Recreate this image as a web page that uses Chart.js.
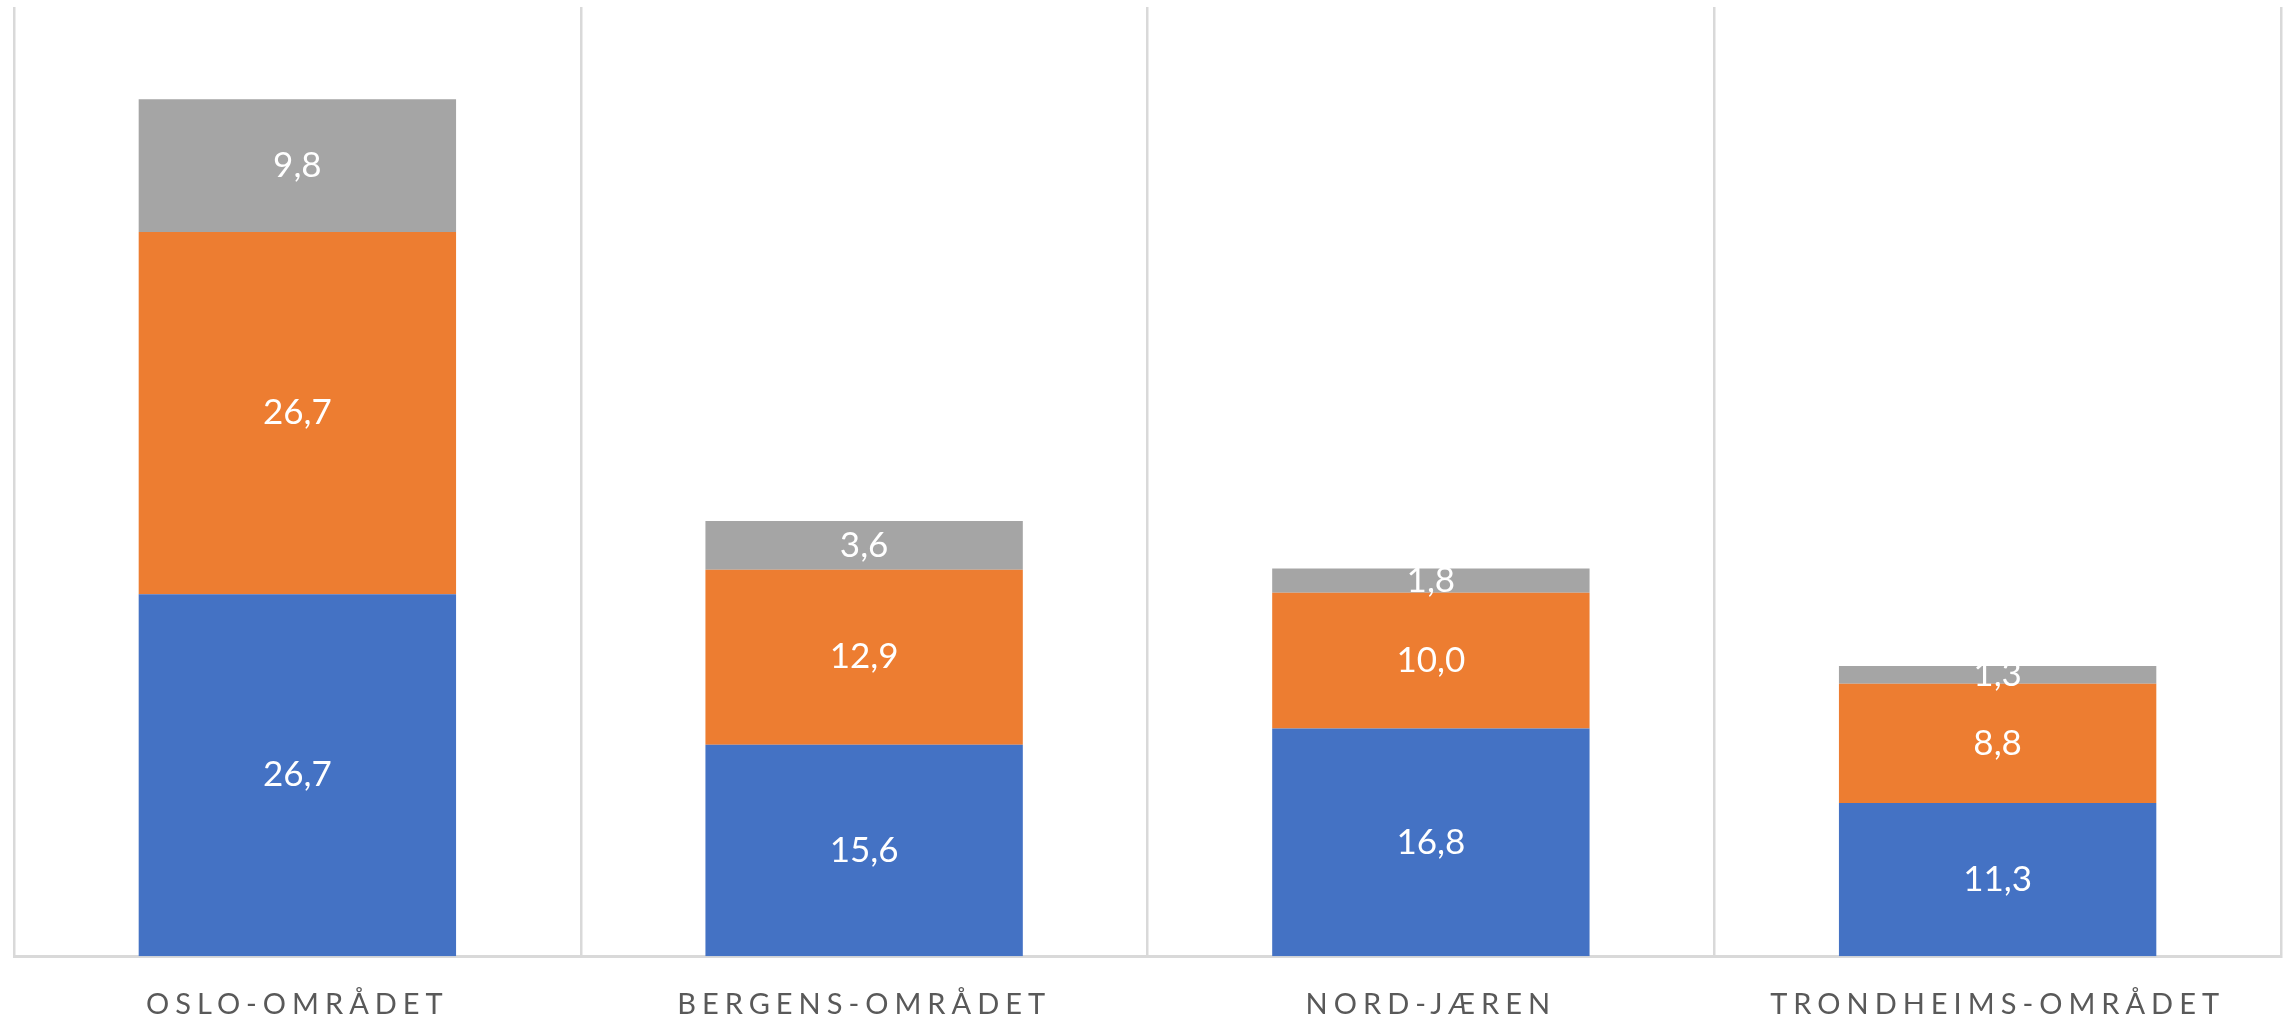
<!DOCTYPE html>
<html lang="no">
<head>
  <meta charset="UTF-8" />
  <title>Regioner</title>
  <script src="https://cdn.jsdelivr.net/npm/chart.js"></script>
  <style>
    body { margin: 0; background: #fff; }
    canvas { display: block; }
  </style>
</head>
<body>
  <canvas id="regionChart" width="2290" height="1019"></canvas>

  <script>
    const regions = ["OSLO-OMRÅDET", "BERGENS-OMRÅDET", "NORD-JÆREN", "TRONDHEIMS-OMRÅDET"];
    const serieA = [26.7, 15.6, 16.8, 11.3];
    const serieB = [26.7, 12.9, 10.0, 8.8];
    const serieC = [9.8, 3.6, 1.8, 1.3];

    // verdier med komma som i originalen
    const fmt = v => v.toFixed(1).replace(".", ",");

    const barLabels = {
      id: "barLabels",
      beforeDraw(chart) {
        chart.ctx.letterSpacing = "6px";
      },
      afterDatasetsDraw(chart) {
        const ctx = chart.ctx;
        ctx.save();
        ctx.letterSpacing = "0px";
        ctx.font = "35px Lato";
        ctx.fillStyle = "#ffffff";
        ctx.textAlign = "center";
        ctx.textBaseline = "middle";
        chart.data.datasets.forEach((ds, i) => {
          chart.getDatasetMeta(i).data.forEach((bar, j) => {
            const mid = (bar.y + bar.base) / 2;
            ctx.fillText(fmt(ds.data[j]), bar.x, mid);
          });
        });
        ctx.restore();
      }
    };

    new Chart(document.getElementById("regionChart").getContext("2d"), {
      type: "bar",
      data: {
        labels: regions,
        datasets: [
          { label: "A", data: serieA, backgroundColor: "#4472C4" },
          { label: "B", data: serieB, backgroundColor: "#ED7D31" },
          { label: "C", data: serieC, backgroundColor: "#A5A5A5" }
        ]
      },
      options: {
        responsive: false,
        animation: false,
        layout: { padding: { left: 14, right: 9, top: 7, bottom: -34 } },
        datasets: { bar: { barPercentage: 0.56, categoryPercentage: 1.0 } },
        plugins: { legend: { display: false }, tooltip: { enabled: false } },
        scales: {
          x: {
            stacked: true,
            grid: { color: "#D9D9D9", lineWidth: 2.5, drawTicks: false, offset: true },
            border: { color: "#D9D9D9", width: 3 },
            ticks: { color: "#595959", font: { family: "Lato", size: 29 }, padding: 31 }
          },
          y: {
            stacked: true,
            display: false,
            min: 0,
            max: 70
          }
        }
      },
      plugins: [barLabels]
    });
  </script>
</body>
</html>
